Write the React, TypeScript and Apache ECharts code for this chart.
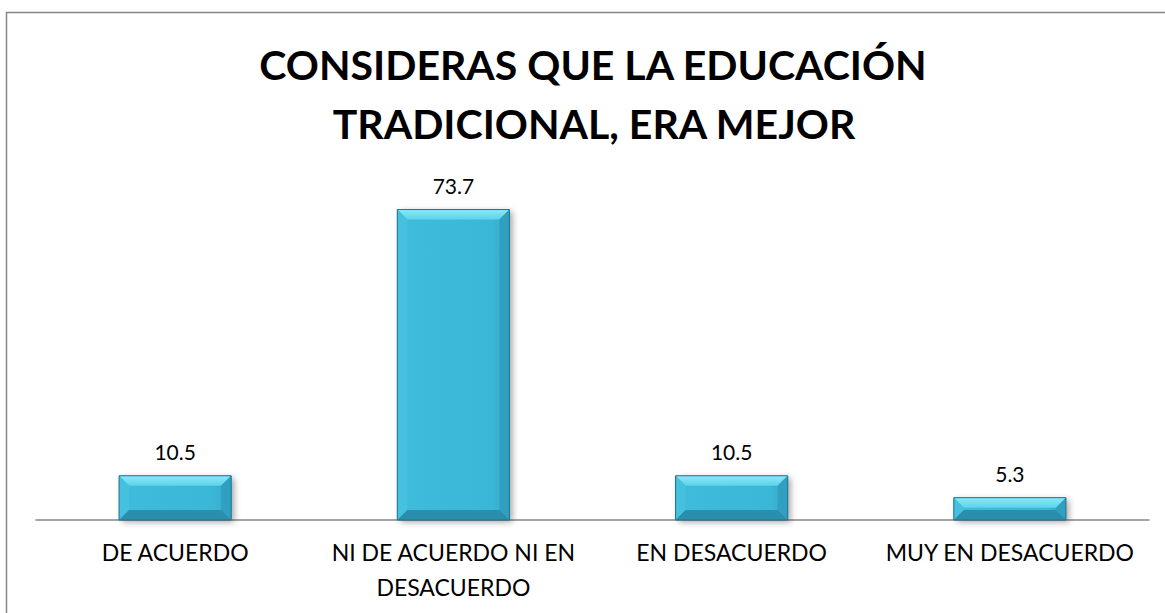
import React, { useEffect, useRef } from "react";
import * as echarts from "echarts";

const categories = ["DE ACUERDO", "NI DE ACUERDO NI EN\nDESACUERDO", "EN DESACUERDO", "MUY EN DESACUERDO"];
const values = [10.5, 73.7, 10.5, 5.3];
const titleLines = ["CONSIDERAS QUE LA EDUCACIÓN", "TRADICIONAL, ERA MEJOR"];

const FONT = "Lato, 'Open Sans', sans-serif";

export default function App() {
  const ref = useRef<HTMLDivElement>(null);
  useEffect(() => {
    document.body.style.margin = "0";
    const chart = echarts.init(ref.current!, null, { renderer: "svg" });
    const renderItem = (params: any, api: any) => {
      const idx = api.value(0);
      const val = api.value(1);
      const top = api.coord([idx, val]);
      const base = api.coord([idx, 0]);
      const w = api.size([1, 0])[0] * 0.403;
      const x0 = top[0] - w / 2;
      const x1 = top[0] + w / 2;
      const y0 = top[1];
      const y1 = base[1];
      const b = Math.min(10, (y1 - y0) / 2.2);
      return {
        type: "group",
        children: [
          {
            type: "rect",
            shape: { x: x0, y: y0, width: w, height: y1 - y0 },
            style: {
              fill: "#3cb8d9",
              shadowBlur: 6,
              shadowOffsetX: 3,
              shadowOffsetY: 2,
              shadowColor: "rgba(0,0,0,0.35)",
            },
          },
          {
            type: "rect",
            shape: { x: x0, y: y0, width: w, height: y1 - y0 },
            style: {
              fill: new echarts.graphic.LinearGradient(0, 0, 1, 0, [
                { offset: 0, color: "#3fbcdc" },
                { offset: 0.85, color: "#3ab6d7" },
                { offset: 1, color: "#33a6c6" },
              ]),
            },
          },
          {
            type: "polygon",
            shape: { points: [[x0, y0], [x1, y0], [x1 - b, y0 + b], [x0 + b, y0 + b]] },
            style: {
              fill: new echarts.graphic.LinearGradient(0, 0, 0, 1, [
                { offset: 0, color: "#8be9f9" },
                { offset: 1, color: "#5ed2ea" },
              ]),
            },
          },
          {
            type: "polygon",
            shape: { points: [[x0, y0], [x0 + b, y0 + b], [x0 + b, y1 - b], [x0, y1]] },
            style: { fill: "#45c0df" },
          },
          {
            type: "polygon",
            shape: { points: [[x1, y0], [x1, y1], [x1 - b, y1 - b], [x1 - b, y0 + b]] },
            style: { fill: "#319fbf" },
          },
          {
            type: "polygon",
            shape: { points: [[x0, y1], [x1, y1], [x1 - b, y1 - b], [x0 + b, y1 - b]] },
            style: { fill: "#2a8eac" },
          },
          {
            type: "rect",
            shape: { x: x0, y: y0, width: w, height: y1 - y0 },
            style: { fill: "none", stroke: "#1f7491", lineWidth: 1 },
          },
          {
            type: "text",
            x: top[0],
            y: y0 - 14,
            style: {
              text: String(values[idx]),
              fontSize: 21,
              fontFamily: FONT,
              fill: "#000",
              align: "center",
              verticalAlign: "bottom",
            },
          },
        ],
      };
    };
    chart.setOption({
      animation: false,
      backgroundColor: "#ffffff",
      grid: { left: 36, right: 16, top: 183, bottom: 93 },
      xAxis: {
        type: "category",
        data: categories,
        axisLine: { lineStyle: { color: "#868686", width: 1.5 } },
        axisTick: { show: false },
        axisLabel: {
          interval: 0,
          fontSize: 23,
          lineHeight: 35,
          margin: 14,
          color: "#000",
          fontFamily: FONT,
        },
      },
      yAxis: { type: "value", min: 0, max: 80, show: false, splitLine: { show: false } },
      series: [
        {
          type: "custom",
          renderItem,
          data: values.map((v, i) => [i, v]),
          encode: { x: 0, y: 1 },
        },
      ],
      graphic: [
        {
          type: "rect",
          shape: { x: 6.5, y: 12.5, width: 1200, height: 700 },
          style: { fill: "none", stroke: "#868686", lineWidth: 1.5 },
          silent: true,
          z: -1,
        },
        {
          type: "text",
          x: 593,
          y: 64,
          style: {
            text: titleLines[0],
            fontSize: 41,
            fontWeight: "bold",
            fontFamily: FONT,
            fill: "#000",
            align: "center",
            verticalAlign: "middle",
          },
        },
        {
          type: "text",
          x: 594,
          y: 123,
          style: {
            text: titleLines[1],
            fontSize: 41,
            fontWeight: "bold",
            fontFamily: FONT,
            fill: "#000",
            align: "center",
            verticalAlign: "middle",
          },
        },
      ],
    });
    return () => chart.dispose();
  }, []);
  return <div ref={ref} style={{ width: 1165, height: 613 }} />;
}
